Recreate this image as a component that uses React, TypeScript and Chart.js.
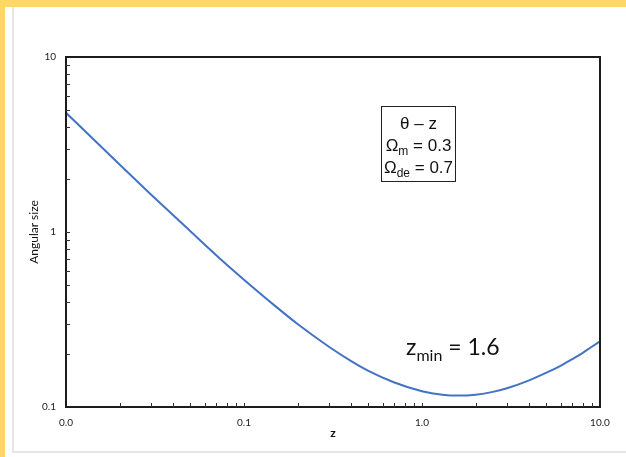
import React, { useEffect, useRef } from 'react';
import { Chart, registerables } from 'chart.js';

Chart.register(...registerables);

// Redshift values (x) and angular size (y)
const zValues = [0.01, 0.02, 0.03, 0.05, 0.075, 0.1, 0.15, 0.2, 0.3, 0.4, 0.5, 0.7, 1, 1.3, 1.6, 2, 2.5, 3, 4, 5, 6, 7, 8, 9, 10];
const angularSize = [4.8, 2.43, 1.64, 1.01, 0.69, 0.534, 0.377, 0.298, 0.221, 0.183, 0.161, 0.138, 0.123, 0.1175, 0.1162, 0.1176, 0.122, 0.128, 0.142, 0.157, 0.172, 0.188, 0.204, 0.221, 0.237];

const xTickValues = [0.01, 0.1, 1, 10];
const xTickLabels = ['0.0', '0.1', '1.0', '10.0'];
const yTickValues = [0.1, 1, 10];
const yTickLabels = ['0.1', '1', '10'];

const xMinorTicks = [0.02, 0.03, 0.04, 0.05, 0.06, 0.07, 0.08, 0.09, 0.1, 0.2, 0.3, 0.4, 0.5, 0.6, 0.7, 0.8, 0.9, 1, 2, 3, 4, 5, 6, 7, 8, 9];
const yMinorTicks = [0.2, 0.3, 0.4, 0.5, 0.6, 0.7, 0.8, 0.9, 1, 2, 3, 4, 5, 6, 7, 8, 9];

const xTitle = 'z';
const yTitle = 'Angular size';
const boxLine1 = 'θ – z';
const boxLine2 = ['Ω', 'm', ' = 0.3'];
const boxLine3 = ['Ω', 'de', ' = 0.7'];
const zminText = ['z', 'min', ' = 1.6'];

const LABEL_FONT = 'Lato';
const BOX_FONT = '"Liberation Sans"';

const framePlugin = {
  id: 'frameAndNotes',
  afterDatasetsDraw(chart: any) {
    const { ctx, chartArea: a, scales } = chart;
    const x = scales.x;
    const y = scales.y;
    ctx.save();
    // frame
    ctx.strokeStyle = '#1c1c1c';
    ctx.lineWidth = 2;
    ctx.strokeRect(a.left, a.top, a.right - a.left, a.bottom - a.top);
    // inward minor ticks
    ctx.lineWidth = 1;
    ctx.strokeStyle = '#333';
    ctx.beginPath();
    xMinorTicks.forEach((v) => {
      const px = Math.round(x.getPixelForValue(v)) + 0.5;
      ctx.moveTo(px, a.bottom);
      ctx.lineTo(px, a.bottom - 4);
    });
    yMinorTicks.forEach((v) => {
      const py = Math.round(y.getPixelForValue(v)) + 0.5;
      ctx.moveTo(a.left, py);
      ctx.lineTo(a.left + 4, py);
    });
    ctx.stroke();

    // legend-like box
    const bx = a.left + 315.5;
    const by = a.top + 49.5;
    const bw = 74;
    const bh = 75;
    ctx.strokeStyle = '#222';
    ctx.lineWidth = 1;
    ctx.strokeRect(bx, by, bw, bh);
    const cx = bx + bw / 2;
    ctx.fillStyle = '#111';
    ctx.textBaseline = 'alphabetic';
    const mainFont = `17px ${BOX_FONT}`;
    const subFont = `12px ${BOX_FONT}`;
    ctx.font = mainFont;
    ctx.textAlign = 'center';
    ctx.fillText(boxLine1, cx, by + 22);
    const drawSub = (parts: string[], baseY: number, mf: string, sf: string, subDy: number, centerX: number | null, startX?: number) => {
      ctx.font = mf;
      const w0 = ctx.measureText(parts[0]).width;
      const w2 = ctx.measureText(parts[2]).width;
      ctx.font = sf;
      const w1 = ctx.measureText(parts[1]).width;
      const total = w0 + w1 + w2;
      const sx = centerX !== null ? centerX - total / 2 : (startX as number);
      ctx.textAlign = 'left';
      ctx.font = mf;
      ctx.fillText(parts[0], sx, baseY);
      ctx.font = sf;
      ctx.fillText(parts[1], sx + w0, baseY + subDy);
      ctx.font = mf;
      ctx.fillText(parts[2], sx + w0 + w1, baseY);
    };
    drawSub(boxLine2, by + 44, mainFont, subFont, 4, cx);
    drawSub(boxLine3, by + 66, mainFont, subFont, 4, cx);

    // z_min annotation
    drawSub(zminText, a.top + 298, `23px ${LABEL_FONT}`, `16px ${LABEL_FONT}`, 6, null, a.left + 340);
    ctx.restore();
  },
};

export default function App() {
  const canvasRef = useRef<HTMLCanvasElement | null>(null);

  useEffect(() => {
    const canvas = canvasRef.current;
    if (!canvas) return;
    const tickFont = { family: LABEL_FONT, size: 10 };
    const chart = new Chart(canvas, {
      type: 'line',
      data: {
        datasets: [
          {
            data: zValues.map((z, i) => ({ x: z, y: angularSize[i] })),
            borderColor: '#4472C4',
            borderWidth: 2,
            pointRadius: 0,
            fill: false,
            cubicInterpolationMode: 'monotone',
          },
        ],
      },
      options: {
        animation: false,
        responsive: false,
        devicePixelRatio: 1,
        layout: { padding: { left: 20, top: 57, right: 26, bottom: 10 } },
        plugins: { legend: { display: false }, tooltip: { enabled: false } },
        scales: {
          x: {
            type: 'logarithmic',
            min: 0.01,
            max: 10,
            afterBuildTicks: (s: any) => {
              s.ticks = xTickValues.map((v) => ({ value: v }));
            },
            afterFit: (s: any) => {
              s.height = 40;
            },
            ticks: {
              autoSkip: false,
              maxRotation: 0,
              padding: 10,
              font: tickFont,
              color: '#222',
              callback: (_v: any, i: number) => xTickLabels[i],
            },
            grid: { display: false, drawTicks: false },
            border: { display: false },
            title: { display: true, text: xTitle, font: { family: LABEL_FONT, size: 12, weight: 'bold' }, color: '#111', padding: { top: 0, bottom: 7 } },
          },
          y: {
            type: 'logarithmic',
            min: 0.1,
            max: 10,
            afterBuildTicks: (s: any) => {
              s.ticks = yTickValues.map((v) => ({ value: v }));
            },
            afterFit: (s: any) => {
              s.width = 46;
            },
            ticks: {
              autoSkip: false,
              padding: 10,
              font: tickFont,
              color: '#222',
              callback: (_v: any, i: number) => yTickLabels[i],
            },
            grid: { display: false, drawTicks: false },
            border: { display: false },
            title: { display: true, text: yTitle, font: { family: LABEL_FONT, size: 12 }, color: '#111', padding: { top: 7, bottom: 0 } },
          },
        },
      },
      plugins: [framePlugin],
    } as any);
    return () => chart.destroy();
  }, []);

  return (
    <div style={{ position: 'fixed', left: 0, top: 0, width: 626, height: 457, background: '#fff', overflow: 'hidden' }}>
      <div style={{ position: 'absolute', left: 0, top: 0, width: 626, height: 7, background: '#FFD864' }} />
      <div style={{ position: 'absolute', left: 0, top: 0, width: 5, height: 457, background: '#FFD864' }} />
      <div style={{ position: 'absolute', left: 12, top: 7, width: 2, height: 446, background: '#e6e6e6' }} />
      <div style={{ position: 'absolute', left: 12, top: 451, width: 614, height: 2, background: '#e6e6e6' }} />
      <canvas ref={canvasRef} width={626} height={457} style={{ position: 'absolute', left: 0, top: 0, width: 626, height: 457 }} />
    </div>
  );
}
